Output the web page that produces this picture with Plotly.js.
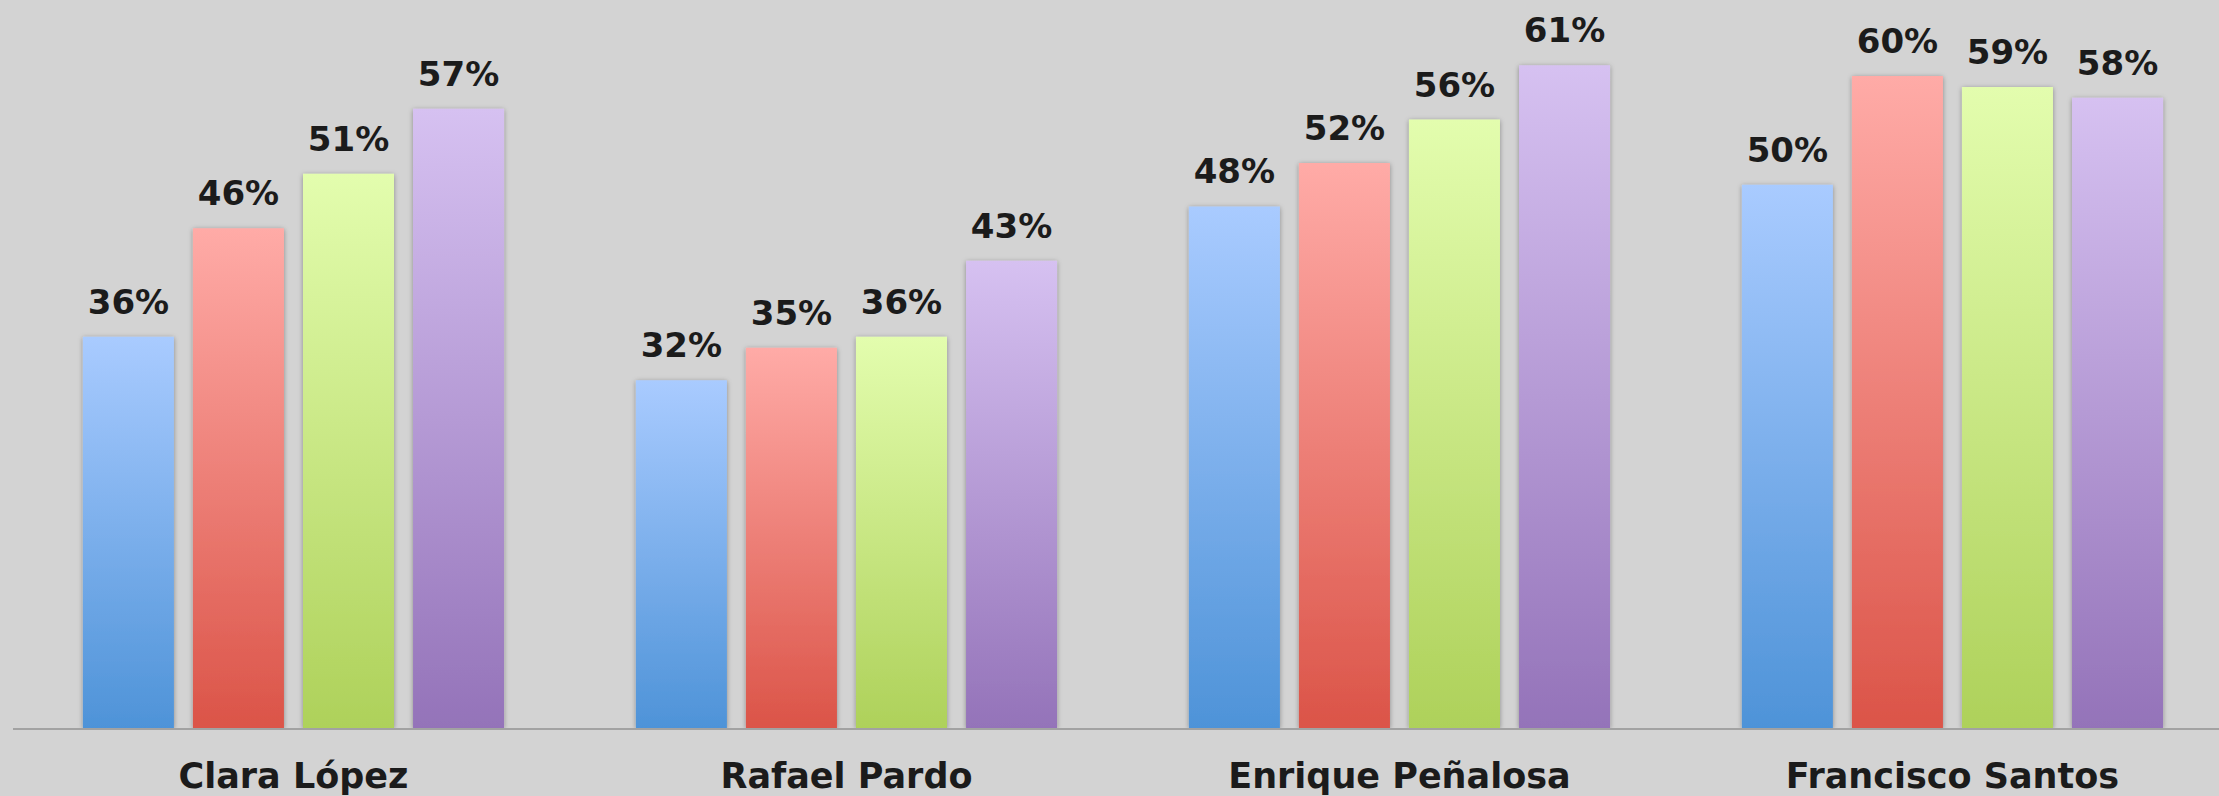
<!DOCTYPE html>
<html><head><meta charset="utf-8">
<script src="https://cdn.plot.ly/plotly-3.0.1.min.js"></script>
<style>html,body{margin:0;padding:0;background:#d3d3d3;overflow:hidden} #chart{width:2219px;height:796px;}</style>
</head><body><div id="chart"></div>
<script>
const categories = ['Clara López', 'Rafael Pardo', 'Enrique Peñalosa', 'Francisco Santos'];
const series1 = [36, 32, 48, 50];
const series2 = [46, 35, 52, 60];
const series3 = [51, 36, 56, 59];
const series4 = [57, 43, 61, 58];
const seriesNames = ['Serie 1', 'Serie 2', 'Serie 3', 'Serie 4'];
const gradTop = ['#a9cbff', '#ffaba7', '#e3fdae', '#d6c1f1'];
const gradBottom = ['#4e93d8', '#db5448', '#aed15a', '#9473b9'];

const allSeries = [series1, series2, series3, series4];
const traces = allSeries.map((vals, i) => ({
  type: 'bar',
  name: seriesNames[i],
  x: categories,
  y: vals,
  marker: {color: gradBottom[i], line: {width: 0}},
  text: vals.map(v => v + '%'),
  textposition: 'outside',
  constraintext: 'none',
  cliponaxis: false,
  textfont: {family: 'DejaVu Sans', size: 34, color: '#1b1b1b', weight: 'bold'},
  hoverinfo: 'skip'
}));

const layout = {
  width: 2219, height: 796,
  margin: {l: 13, r: 0, t: 0, b: 68},
  paper_bgcolor: '#d3d3d3',
  plot_bgcolor: '#d3d3d3',
  showlegend: false,
  barmode: 'group',
  bargap: 0.204,
  bargroupgap: 0.173,
  xaxis: {
    range: [-0.5072, 3.482],
    showline: true, linecolor: '#a2a2a2', linewidth: 2,
    showgrid: false, zeroline: false, ticks: '',
    ticklabelstandoff: 16,
    tickfont: {family: 'DejaVu Sans', size: 35, color: '#1b1b1b', weight: 'bold'},
    fixedrange: true
  },
  yaxis: {
    range: [0, 67.0],
    visible: false, showgrid: false, zeroline: false, fixedrange: true
  }
};

Plotly.newPlot('chart', traces, layout, {displayModeBar: false, staticPlot: true}).then(gd => {
  const svg = gd.querySelector('.main-svg');
  const ns = 'http://www.w3.org/2000/svg';
  const defs = document.createElementNS(ns, 'defs');
  gradTop.forEach((top, i) => {
    const lg = document.createElementNS(ns, 'linearGradient');
    lg.setAttribute('id', 'grad' + i);
    lg.setAttribute('x1', '0'); lg.setAttribute('y1', '0');
    lg.setAttribute('x2', '0'); lg.setAttribute('y2', '1');
    [[0, top], [1, gradBottom[i]]].forEach(([o, c]) => {
      const st = document.createElementNS(ns, 'stop');
      st.setAttribute('offset', o);
      st.setAttribute('stop-color', c);
      lg.appendChild(st);
    });
    defs.appendChild(lg);
  });
  const filt = document.createElementNS(ns, 'filter');
  filt.setAttribute('id', 'barshadow');
  filt.setAttribute('x', '-20%'); filt.setAttribute('y', '-5%');
  filt.setAttribute('width', '140%'); filt.setAttribute('height', '110%');
  const ds = document.createElementNS(ns, 'feDropShadow');
  ds.setAttribute('dx', '0'); ds.setAttribute('dy', '1');
  ds.setAttribute('stdDeviation', '2.5');
  ds.setAttribute('flood-color', '#000');
  ds.setAttribute('flood-opacity', '0.35');
  filt.appendChild(ds);
  defs.appendChild(filt);
  svg.insertBefore(defs, svg.firstChild);

  gd.querySelectorAll('.barlayer .trace').forEach((tr, i) => {
    tr.querySelectorAll('.point path').forEach(p => {
      p.style.fill = 'url(#grad' + i + ')';
      p.setAttribute('filter', 'url(#barshadow)');
    });
    tr.querySelectorAll('.point text').forEach(t => {
      const tf = t.getAttribute('transform') || '';
      t.setAttribute('transform', 'translate(0,-12) ' + tf);
    });
  });
});
</script>
</body></html>
